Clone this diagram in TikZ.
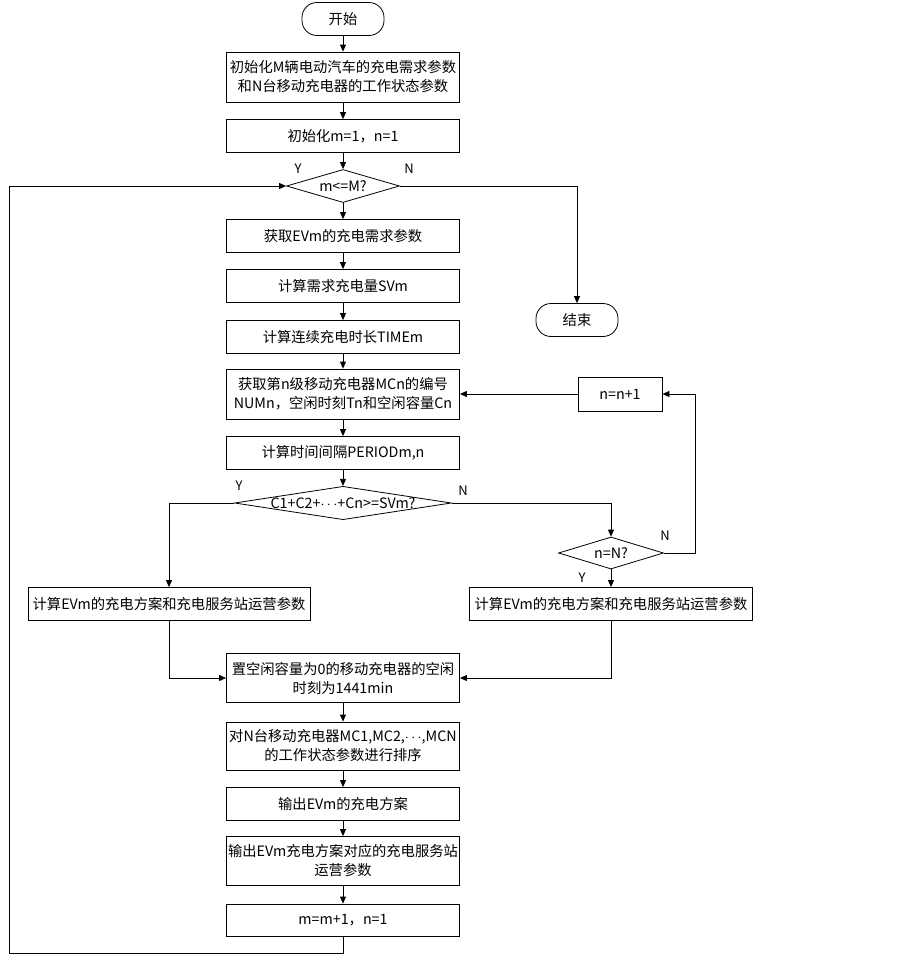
\documentclass[tikz,border=0pt]{standalone}
\usepackage{fontspec}
\setmainfont{Noto Sans CJK SC}
\usetikzlibrary{shapes.geometric,arrows.meta}

\tikzset{
  base/.style={draw,line width=0.8pt,align=center,font=\fontsize{14.3}{19}\selectfont},
  proc/.style={base,rectangle,minimum width=233pt,minimum height=33pt,inner sep=2pt},
  term/.style={base,rectangle,rounded corners=15pt,minimum width=82pt,minimum height=33pt},
  cond/.style={base,diamond,inner sep=0pt},
  lbl/.style={font=\fontsize{13}{15}\selectfont,inner sep=0pt},
  arr/.style={line width=0.8pt,-{Triangle[length=7pt,width=6pt]}}
}

\begin{document}
\begin{tikzpicture}[x=1pt,y=-1pt]

  \useasboundingbox (0,0) rectangle (903,956);

  % Main column
  \node[term] (start) at (343,19) {开始};
  \node[proc,minimum height=50pt] (init) at (343,77)
    {初始化M辆电动汽车的充电需求参数\\和N台移动充电器的工作状态参数};
  \node[proc] (setm) at (343,136) {初始化m=1，n=1};
  \node[cond,minimum width=113pt,minimum height=33pt,aspect=3.4] (chkm) at (343,186) {m<=M?};
  \node[proc] (getev) at (343,236) {获取EVm的充电需求参数};
  \node[proc] (getsv) at (343,286) {计算需求充电量SVm};
  \node[proc] (gettime) at (343,337) {计算连续充电时长TIMEm};
  \node[proc,minimum height=50pt] (getmc) at (343,394)
    {获取第n级移动充电器MCn的编号\\NUMn，空闲时刻Tn和空闲容量Cn};
  \node[proc] (period) at (343,453) {计算时间间隔PERIODm,n};
  \node[cond,minimum width=213pt,minimum height=33pt,aspect=6.5] (chkc) at (343,503) {C1+C2+$\cdots$+Cn>=SVm?};

  % Side nodes
  \node[term] (finish) at (577,320) {结束};
  \node[proc,minimum width=84pt,minimum height=34pt] (incn) at (620,394) {n=n+1};
  \node[cond,minimum width=105pt,minimum height=32pt,aspect=3.3] (chkn) at (611,553) {n=N?};
  \node[proc,minimum width=282pt] (planl) at (169,604) {计算EVm的充电方案和充电服务站运营参数};
  \node[proc,minimum width=283pt] (planr) at (611,604) {计算EVm的充电方案和充电服务站运营参数};

  % Lower column
  \node[proc,minimum height=49pt] (reset) at (343,678)
    {置空闲容量为0的移动充电器的空闲\\时刻为1441min};
  \node[proc,minimum height=48pt] (sort) at (343,746)
    {对N台移动充电器MC1,MC2,$\cdots$,MCN\\的工作状态参数进行排序};
  \node[proc] (outplan) at (343,804) {输出EVm的充电方案};
  \node[proc,minimum height=49pt] (outpara) at (343,861)
    {输出EVm充电方案对应的充电服务站\\运营参数};
  \node[proc,minimum height=32pt] (nextm) at (343,920) {m=m+1，n=1};

  % Y/N labels
  \node[lbl] (ym) at (298,169) {Y};
  \node[lbl] (nm) at (409,169) {N};
  \node[lbl] (yc) at (239,486) {Y};
  \node[lbl] (nc) at (463,491) {N};
  \node[lbl] (nn) at (665,536) {N};
  \node[lbl] (yn) at (582,578) {Y};

  % Corner points
  \coordinate (nturn) at (695,394);
  \coordinate (loopb) at (343,953);
  \coordinate (loopl) at (9,953);

  % Straight flow
  \draw[arr] (start) -- (init);
  \draw[arr] (init) -- (setm);
  \draw[arr] (setm) -- (chkm);
  \draw[arr] (chkm) -- (getev);
  \draw[arr] (getev) -- (getsv);
  \draw[arr] (getsv) -- (gettime);
  \draw[arr] (gettime) -- (getmc);
  \draw[arr] (getmc) -- (period);
  \draw[arr] (period) -- (chkc);
  \draw[arr] (reset) -- (sort);
  \draw[arr] (sort) -- (outplan);
  \draw[arr] (outplan) -- (outpara);
  \draw[arr] (outpara) -- (nextm);

  % Branches
  \draw[arr] (chkm.east) -| (finish.north);
  \draw[arr] (chkc.west) -| (planl.north);
  \draw[arr] (chkc.east) -| (chkn.north);
  \draw[arr] (chkn.east) -| (nturn) -- (incn.east);
  \draw[arr] (incn.west) -- (getmc.east);
  \draw[arr] (chkn) -- (planr);
  \draw[arr] (planl.south) |- (reset.west);
  \draw[arr] (planr.south) |- (reset.east);

  % Loop back to m<=M?
  \draw[arr] (nextm.south) -- (loopb) -- (loopl) |- (chkm.west);

\end{tikzpicture}
\end{document}
